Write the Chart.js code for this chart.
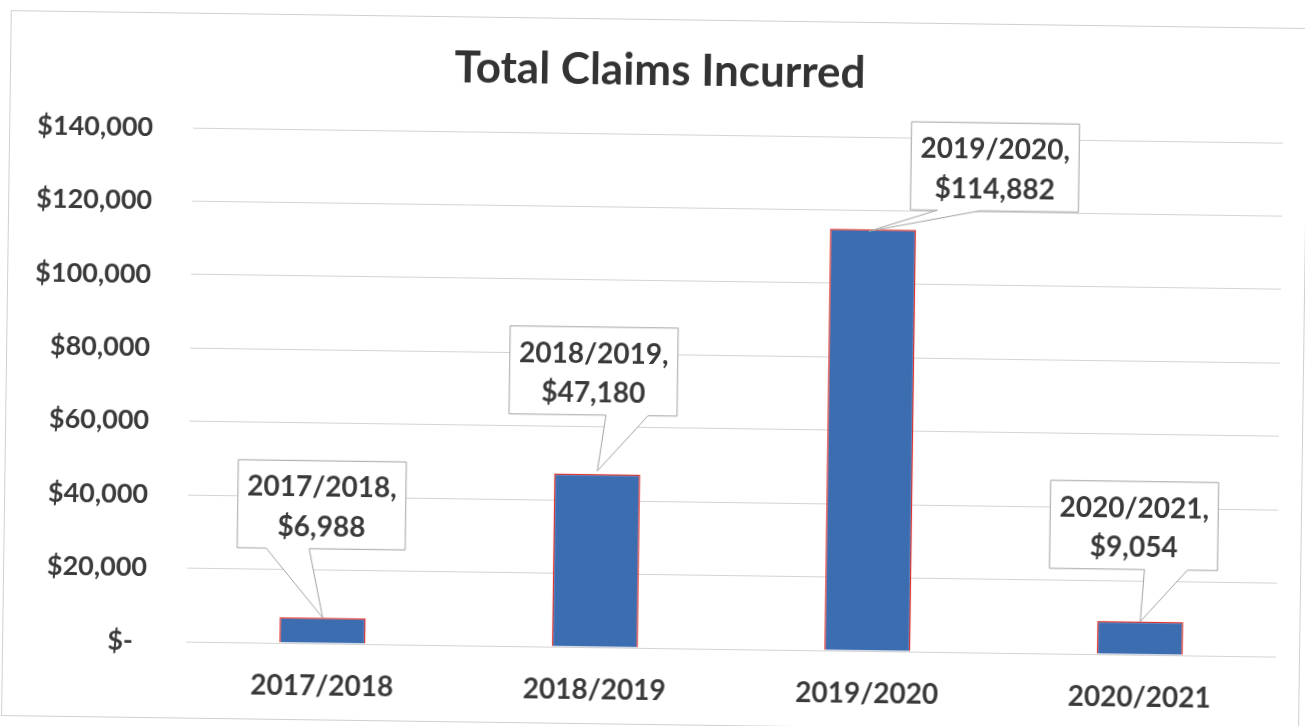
<!DOCTYPE html>
<html>
<head>
<meta charset="utf-8">
<title>Total Claims Incurred</title>
<script src="https://cdn.jsdelivr.net/npm/chart.js@4"></script>
<style>
  html, body { margin: 0; padding: 0; background: #fff; }
  #wrap {
    position: absolute; left: 0; top: 0;
    width: 1305px; height: 726px;
    transform: rotate(0.79deg);
    transform-origin: 652px 363px;
  }
  canvas { display: block; }
</style>
</head>
<body>
<div id="wrap"><canvas id="claimsChart" width="1305" height="726"></canvas></div>
<script>
const years = ['2017/2018', '2018/2019', '2019/2020', '2020/2021'];
const claims = [6988, 47180, 114882, 9054];
const yMin = 0;
const yMax = 140000;
const yStep = 20000;

const textColor = '#3a3a3a';
const fontFamily = 'Lato, "Open Sans", sans-serif';

function money(v) {
  if (v === 0) return '$-  ';
  return '$' + v.toLocaleString('en-US');
}

// callout box placement relative to the top centre of each bar
const callouts = [
  { dx: -2.5, dy: -113, base: [29, 72], tip: [0, 0] },
  { dx: -5, dy: -103, base: [97, 139], tip: [0, -3] },
  { dx: 121, dy: -64, base: [27, 70], tip: [-4, 2] },
  { dx: -7.5, dy: -96, base: [95, 138], tip: [0, 0] }
];

// white page, thin outer frame and the heading
const frame = {
  id: 'frame',
  beforeDraw(chart) {
    const ctx = chart.ctx;
    ctx.save();
    ctx.fillStyle = '#fff';
    ctx.fillRect(0, 0, chart.width, chart.height);
    ctx.strokeStyle = '#cfcfcf';
    ctx.lineWidth = 1;
    ctx.strokeRect(6.5, 19.5, 1297, 705);

    ctx.fillStyle = '#333';
    ctx.font = 'bold 44px ' + fontFamily;
    ctx.textAlign = 'center';
    ctx.textBaseline = 'middle';
    ctx.fillText('Total Claims Incurred', 656, 71);
    ctx.restore();
  }
};

const calloutPlugin = {
  id: 'callouts',
  afterDatasetsDraw(chart) {
    const ctx = chart.ctx;
    const meta = chart.getDatasetMeta(0);
    const w = 168, h = 88;

    meta.data.forEach((bar, i) => {
      const c = callouts[i];
      const left = bar.x + c.dx - w / 2;
      const top = bar.y + c.dy - h / 2;
      const right = left + w, bottom = top + h;
      const tx = bar.x + c.tip[0], ty = bar.y + c.tip[1];

      ctx.save();
      ctx.beginPath();
      ctx.moveTo(left, top);
      ctx.lineTo(right, top);
      ctx.lineTo(right, bottom);
      ctx.lineTo(left + c.base[1], bottom);
      ctx.lineTo(tx, ty);
      ctx.lineTo(left + c.base[0], bottom);
      ctx.lineTo(left, bottom);
      ctx.closePath();
      ctx.fillStyle = '#fff';
      ctx.fill();
      ctx.strokeStyle = '#a3a3a3';
      ctx.lineWidth = 1;
      ctx.stroke();

      ctx.fillStyle = textColor;
      ctx.font = 'bold 28px ' + fontFamily;
      ctx.textAlign = 'center';
      ctx.textBaseline = 'alphabetic';
      const cx = (left + right) / 2;
      ctx.fillText(years[i] + ',', cx, top + 36);
      ctx.fillText(money(claims[i]), cx, top + 75.5);
      ctx.restore();
    });
  }
};

new Chart(document.getElementById('claimsChart'), {
  type: 'bar',
  data: {
    labels: years,
    datasets: [{
      data: claims,
      backgroundColor: '#3c6db1',
      borderColor: '#e0302a',
      borderWidth: 1.5,
      categoryPercentage: 1,
      barPercentage: 0.316
    }]
  },
  options: {
    responsive: false,
    animation: false,
    layout: {
      padding: { left: 0, right: 25, top: 134, bottom: 0 }
    },
    plugins: {
      legend: { display: false },
      tooltip: { enabled: false },
      title: { display: false }
    },
    scales: {
      x: {
        grid: { display: false },
        border: { display: false },
        ticks: {
          color: textColor,
          padding: 21,
          font: { family: fontFamily, size: 28, weight: 'bold', lineHeight: 1 }
        }
      },
      y: {
        min: yMin,
        max: yMax,
        afterFit(scale) { scale.width = 190; },
        grid: { color: '#d4d4d4', lineWidth: 1, drawTicks: false },
        border: { display: false },
        ticks: {
          stepSize: yStep,
          padding: 40,
          color: textColor,
          font: { family: fontFamily, size: 27, weight: 'bold' },
          callback: v => money(v)
        }
      }
    }
  },
  plugins: [frame, calloutPlugin]
});
</script>
</body>
</html>
